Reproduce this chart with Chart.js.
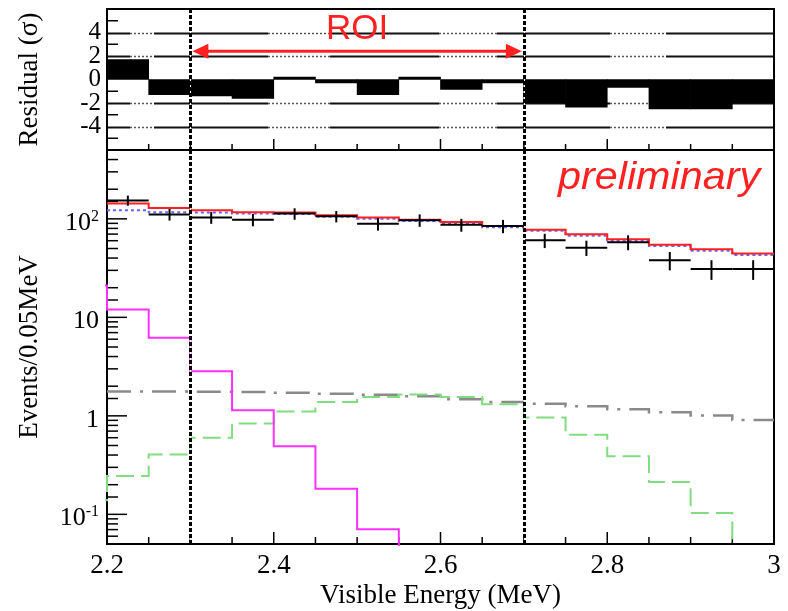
<!DOCTYPE html>
<html lang="en">
<head>
<meta charset="UTF-8">
<title>Visible energy spectrum</title>
<script src="https://cdn.jsdelivr.net/npm/chart.js"></script>
<style>
  body { margin: 0; background: #fff; }
  .wrap { position: relative; width: 788px; height: 611px; }
  .wrap canvas { position: absolute; left: 0; top: 0; }
</style>
</head>
<body>
<div class="wrap">
  <canvas id="spectrum" width="788" height="611"></canvas>
  <canvas id="residual" width="788" height="611"></canvas>
</div>
<script>
// 0.05 MeV bins
const binEdges   = [2.20, 2.25, 2.30, 2.35, 2.40, 2.45, 2.50, 2.55, 2.60, 2.65, 2.70, 2.75, 2.80, 2.85, 2.90, 2.95, 3.00];
const binCenters = [2.225, 2.275, 2.325, 2.375, 2.425, 2.475, 2.525, 2.575, 2.625, 2.675, 2.725, 2.775, 2.825, 2.875, 2.925, 2.975];
const binWidth = 0.05;
const prevBinEdge = 2.15;   // bin just below the plotted range

const residuals  = [1.7, -1.3, -1.4, -1.6, 0.2, -0.3, -1.3, 0.2, -0.85, -0.3, -2.0, -2.35, -0.67, -2.5, -2.5, -2.0];
const dataCounts = [154, 111, 103, 98, 113, 106, 89, 97, 87, 84.5, 60.5, 51, 58, 38, 31, 31];
const dataErrors = [18, 15, 14, 14, 15, 14, 13, 14, 13, 13, 10, 9, 10, 8, 7, 7];

const totalFit   = [143, 129, 122, 117, 116, 108.5, 103, 98, 92.8, 84.5, 77.6, 69.6, 62, 54.7, 49, 44.4];
const bkgFit     = [122, 117, 116, 113, 112, 105, 100, 95, 90, 82, 75.5, 67.5, 60, 53, 47.5, 43];
const magentaPrev = 21;
const magentaComp = [12.0, 6.2, 2.83, 1.14, 0.49, 0.182, 0.0705, 0.02];
const greenPrev  = 0.139;
const greenComp  = [0.245, 0.404, 0.601, 0.834, 1.11, 1.38, 1.55, 1.65, 1.55, 1.31, 0.96, 0.644, 0.388, 0.213, 0.103, 0.03];
const grayComp   = [1.77, 1.77, 1.76, 1.75, 1.72, 1.68, 1.64, 1.58, 1.47, 1.38, 1.33, 1.25, 1.17, 1.09, 1.01, 0.91];

const roiRange = [2.3, 2.7];
const xTickLabels = { '2.2': '2.2', '2.4': '2.4', '2.6': '2.6', '2.8': '2.8', '3': '3' };
const resTickLabels = [-4, -2, 0, 2, 4];
const logTickLabels = [
  { value: 0.1, base: '10', exp: '-1' },
  { value: 1,   base: '1',  exp: '' },
  { value: 10,  base: '10', exp: '' },
  { value: 100, base: '10', exp: '2' }
];

const serif = 'Liberation Serif';
const sans = 'Liberation Sans';
const RED = '#ff2020';
Chart.defaults.font.family = serif;
Chart.defaults.color = '#000';

// histogram outline: one point per left bin edge, plus the closing edge
function steps(values, prev) {
  const pts = [];
  if (prev !== undefined) pts.push({ x: prevBinEdge, y: prev });
  values.forEach((v, i) => pts.push({ x: binEdges[i], y: v }));
  pts.push({ x: binEdges[values.length], y: values[values.length - 1] });
  return pts;
}

function stepLine(pts, color, width, dash) {
  return {
    type: 'line', data: pts, stepped: 'before', borderColor: color, borderWidth: width,
    borderDash: dash || [], pointRadius: 0, fill: false, tension: 0, clip: 2
  };
}

const isFifth = v => Math.abs(v * 5 - Math.round(v * 5)) < 1e-6;
const isDecade = v => Math.abs(Math.log10(v) - Math.round(Math.log10(v))) < 1e-6;

function line(ctx, x1, y1, x2, y2) {
  ctx.beginPath(); ctx.moveTo(x1, y1); ctx.lineTo(x2, y2); ctx.stroke();
}

function drawRoiLines(ctx, chart) {
  const a = chart.chartArea, x = chart.scales.x;
  roiRange.forEach(v => {
    const px = Math.round(x.getPixelForValue(v)) + 0.5;
    ctx.strokeStyle = '#fff'; ctx.lineWidth = 1; ctx.setLineDash([]);
    line(ctx, px, a.top, px, a.bottom);
    ctx.strokeStyle = '#000'; ctx.lineWidth = 3; ctx.setLineDash([4, 2]);
    line(ctx, px, a.top, px, a.bottom);
  });
  ctx.setLineDash([]);
}

function drawFrameAndXTicks(ctx, chart, majorLen, minorLen) {
  const a = chart.chartArea, x = chart.scales.x;
  ctx.strokeStyle = '#000'; ctx.lineWidth = 1.5; ctx.setLineDash([]);
  x.ticks.forEach(t => {
    const px = x.getPixelForValue(t.value);
    line(ctx, px, a.bottom, px, a.bottom - (isFifth(t.value) ? majorLen : minorLen));
  });
  ctx.lineWidth = 2;
  ctx.strokeRect(a.left, a.top, a.right - a.left, a.bottom - a.top);
}

// residual panel: reference lines, ROI marker, ticks, frame
const residualDecor = {
  id: 'residualDecor',
  beforeDatasetsDraw(chart) {
    const { ctx, chartArea: a, scales: { x, y } } = chart;
    // solid lines with short dotted stretches, as in the original style
    const dotted = [[2.2276, 2.2564], [2.3931, 2.4675], [2.5982, 2.6678], [2.8033, 2.8705]];
    ctx.save();
    [-4, -2, 2, 4].forEach(level => {
      const py = Math.round(y.getPixelForValue(level)) + 0.5;
      let start = a.left;
      dotted.forEach(([d0, d1]) => {
        const p0 = x.getPixelForValue(d0), p1 = x.getPixelForValue(d1);
        ctx.strokeStyle = '#111'; ctx.lineWidth = 2; ctx.setLineDash([]);
        line(ctx, start, py, p0, py);
        ctx.strokeStyle = '#555'; ctx.lineWidth = 1.5; ctx.setLineDash([2, 2]);
        line(ctx, p0, py, p1, py);
        start = p1;
      });
      ctx.strokeStyle = '#111'; ctx.lineWidth = 2; ctx.setLineDash([]);
      line(ctx, start, py, a.right, py);
    });
    ctx.restore();
  },
  afterDatasetsDraw(chart) {
    const { ctx, chartArea: a, scales: { x, y } } = chart;
    ctx.save();
    drawRoiLines(ctx, chart);

    // double arrow across the ROI
    const x0 = x.getPixelForValue(roiRange[0]) + 2, x1 = x.getPixelForValue(roiRange[1]) - 2;
    const ay = y.getPixelForValue(2.4);
    ctx.strokeStyle = RED; ctx.fillStyle = RED; ctx.lineWidth = 3;
    line(ctx, x0 + 10, ay, x1 - 10, ay);
    [[x0, 1], [x1, -1]].forEach(([tip, dir]) => {
      ctx.beginPath();
      ctx.moveTo(tip, ay);
      ctx.lineTo(tip + dir * 16, ay - 7.5);
      ctx.lineTo(tip + dir * 16, ay + 7.5);
      ctx.closePath(); ctx.fill();
    });
    ctx.font = '35px ' + sans;
    ctx.textAlign = 'center'; ctx.textBaseline = 'alphabetic';
    ctx.fillText('ROI', x.getPixelForValue((roiRange[0] + roiRange[1]) / 2), 39);

    // left inner ticks at odd values
    ctx.strokeStyle = '#000'; ctx.lineWidth = 1.5;
    y.ticks.forEach(t => {
      if (Math.abs(t.value) % 2 === 1) {
        const py = y.getPixelForValue(t.value);
        line(ctx, a.left, py, a.left + 11, py);
      }
    });
    drawFrameAndXTicks(ctx, chart, 11, 6);
    ctx.restore();
  }
};

// spectrum panel: frame and ticks under the curves, data points and labels on top
const spectrumDecor = {
  id: 'spectrumDecor',
  beforeDatasetsDraw(chart) {
    const { ctx, chartArea: a, scales: { y } } = chart;
    ctx.save();
    ctx.strokeStyle = '#000'; ctx.lineWidth = 1.5;
    y.ticks.forEach(t => {
      if (t.value <= y.min || t.value >= y.max) return;
      const py = y.getPixelForValue(t.value);
      line(ctx, a.left, py, a.left + (isDecade(t.value) ? 20 : 11), py);
    });
    drawFrameAndXTicks(ctx, chart, 12, 7);

    // log axis labels with raised exponents
    ctx.fillStyle = '#000';
    ctx.textAlign = 'right'; ctx.textBaseline = 'alphabetic';
    logTickLabels.forEach(l => {
      const py = y.getPixelForValue(l.value) + 11;
      let right = a.left - 8;
      if (l.exp) {
        ctx.font = '16px ' + serif;
        ctx.fillText(l.exp, right, py - 9);
        right -= ctx.measureText(l.exp).width;
      }
      ctx.font = '26px ' + serif;
      ctx.fillText(l.base, right, py);
    });
    ctx.restore();
  },
  afterDatasetsDraw(chart) {
    const { ctx, scales: { x, y } } = chart;
    ctx.save();
    ctx.strokeStyle = '#000'; ctx.lineWidth = 2;
    chart.data.datasets[0].data.forEach((p, i) => {
      const py = y.getPixelForValue(p.y);
      line(ctx, x.getPixelForValue(p.x - binWidth / 2), py, x.getPixelForValue(p.x + binWidth / 2), py);
      const px = x.getPixelForValue(p.x);
      line(ctx, px, y.getPixelForValue(p.y + dataErrors[i]), px, y.getPixelForValue(p.y - dataErrors[i]));
    });

    drawRoiLines(ctx, chart);

    ctx.fillStyle = RED;
    ctx.font = 'italic 39px ' + sans;
    ctx.textAlign = 'left'; ctx.textBaseline = 'alphabetic';
    ctx.translate(558, 189);
    ctx.scale(1.06, 1);
    ctx.fillText('preliminary', 0, 0);
    ctx.restore();
  }
};

const xScale = {
  type: 'linear', min: 2.2, max: 3.0, offset: false,
  grid: { display: false, drawTicks: false },
  border: { display: false }
};

new Chart(document.getElementById('spectrum'), {
  type: 'line',
  data: {
    datasets: [
      { type: 'scatter', data: binCenters.map((c, i) => ({ x: c, y: dataCounts[i] })), pointRadius: 0, showLine: false },
      stepLine(steps(totalFit), RED, 2),
      stepLine(steps(bkgFit), '#6464ff', 2, [3, 3]),
      stepLine(steps(magentaComp, magentaPrev), '#ff30ff', 2),
      stepLine(steps(greenComp, greenPrev), '#80dc80', 2, [18, 7]),
      stepLine(steps(grayComp), '#8a8a8a', 2.5, [24, 9, 3, 9])
    ]
  },
  options: {
    responsive: false, animation: false, events: [],
    layout: { padding: { left: 0, right: 14, top: 150, bottom: 0 } },
    plugins: { legend: { display: false }, tooltip: { enabled: false } },
    scales: {
      x: Object.assign({}, xScale, {
        ticks: {
          stepSize: 0.05, autoSkip: false, maxRotation: 0, padding: 6,
          color: '#000', font: { family: serif, size: 27 },
          callback: v => xTickLabels[String(Number(v.toFixed(2)))] || ''
        },
        title: {
          display: true, text: 'Visible Energy (MeV)', color: '#000',
          font: { family: serif, size: 27, lineHeight: 1.1 }, padding: { top: 0, bottom: 0 }
        },
        afterFit(s) { s.height = 67; }
      }),
      y: {
        type: 'logarithmic', min: 0.05, max: 500,
        grid: { display: false, drawTicks: false },
        border: { display: false },
        ticks: { autoSkip: false, callback: () => '' },
        title: {
          display: true, text: 'Events/0.05MeV', color: '#000',
          font: { family: serif, size: 27, lineHeight: 1.1 }, padding: { top: 15, bottom: 0 }
        },
        afterFit(s) { s.width = 107; s.paddingTop = 0; s.paddingBottom = 0; }
      }
    }
  },
  plugins: [spectrumDecor]
});

new Chart(document.getElementById('residual'), {
  type: 'bar',
  data: {
    datasets: [{
      data: binCenters.map((c, i) => ({ x: c, y: residuals[i] })),
      backgroundColor: '#000', borderWidth: 0,
      barPercentage: 1, categoryPercentage: 1, grouped: false
    }]
  },
  options: {
    responsive: false, animation: false, events: [],
    layout: { padding: { left: 0, right: 14, top: 9, bottom: 461 } },
    plugins: { legend: { display: false }, tooltip: { enabled: false } },
    scales: {
      x: Object.assign({}, xScale, {
        display: false,
        ticks: { stepSize: 0.05, autoSkip: false }
      }),
      y: {
        type: 'linear', min: -6, max: 6,
        grid: { display: false, drawTicks: false },
        border: { display: false },
        ticks: {
          stepSize: 1, autoSkip: false, padding: 6, color: '#000', font: { family: serif, size: 25 },
          callback: v => resTickLabels.includes(v) ? String(v) : ''
        },
        title: {
          display: true, text: 'Residual (\u03C3)', color: '#000',
          font: { family: serif, size: 27, lineHeight: 1.1 }, padding: { top: 15, bottom: 0 }
        },
        afterFit(s) { s.width = 107; s.paddingTop = 0; s.paddingBottom = 0; }
      }
    }
  },
  plugins: [residualDecor]
});
</script>
</body>
</html>
